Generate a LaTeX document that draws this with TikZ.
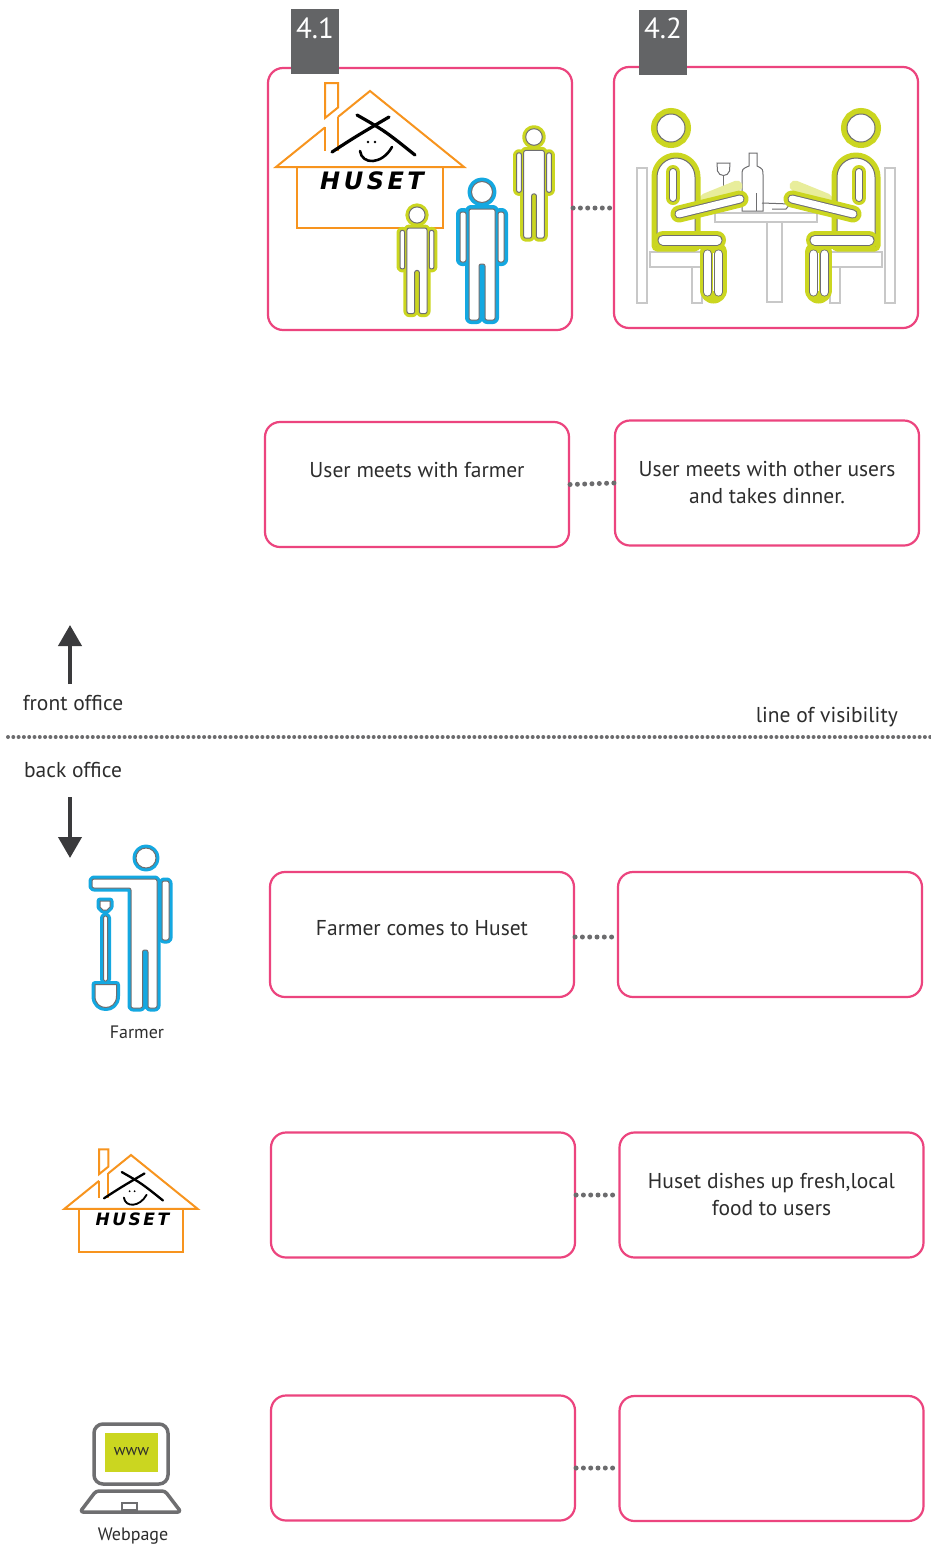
\documentclass[tikz,border=0pt]{standalone}
\usepackage{fontspec}
\setmainfont{PT Sans}
\newfontfamily\logofont{DejaVu Sans}
\usetikzlibrary{arrows.meta,calc}

\definecolor{boxpink}{RGB}{236,68,126}
\definecolor{taggray}{RGB}{99,100,102}
\definecolor{dotgray}{RGB}{108,108,110}
\definecolor{inkgray}{RGB}{45,45,45}
\definecolor{arrowgray}{RGB}{58,58,60}
\definecolor{lime}{RGB}{203,214,32}
\definecolor{skyblue}{RGB}{20,168,225}
\definecolor{roofor}{RGB}{247,148,30}
\definecolor{iconline}{RGB}{110,110,112}
\definecolor{chairgray}{RGB}{200,200,200}

% rounded bar: coloured rim, grey contour, white inside
\newcommand{\capsule}[6]{%
  \draw[#3, line width=#4, line cap=round] #1 -- #2;
  \draw[iconline, line width=#5, line cap=round] #1 -- #2;
  \draw[white, line width=#6, line cap=round] #1 -- #2;}

% standing figure, head centre at the origin
\newcommand{\personparts}[1]{%
  \path[#1] (0,0) circle[radius=10.5];
  \path[#1, rounded corners=2pt] (-22,20) rectangle (-16,70);
  \path[#1, rounded corners=2pt] (16,20) rectangle (22,70);
  \path[#1, rounded corners=2pt] (-13,17) -- (13,17) -- (13,128) -- (3,128)
        -- (3,72) -- (-3,72) -- (-3,128) -- (-13,128) -- cycle;}
\newcommand{\standperson}[5]{% x, y of head, scale, colour, rim width
  \begin{scope}[shift={(#1,#2)}, scale=#3]
    \personparts{draw=#4, line width=#5, line join=round}
    \personparts{core}
  \end{scope}}

% the Huset logo house, apex at the origin
\newcommand{\husethouse}[5]{% x, y of apex, scale, brush width, name
  \begin{scope}[shift={(#1,#2)}, scale=#3]
    \draw[roof] (-45,36.4) -- (-94,76) -- (94,76) -- (0,0) -- (-32,25.9);
    \draw[roof] (-73,76) -- (-73,137) -- (73,137) -- (73,76);
    \draw[roof] (-45,27) -- (-45,-8) -- (-32,-8) -- (-32,16.5) -- cycle;
    \draw[roof] (-45,36.4) -- (-45,60);
    \draw[roof] (-32,25.9) -- (-32,60);
    \draw[brush, line width=#4] (-38,61) .. controls (-15,46) .. (19,26);
    \draw[brush, line width=#4] (-13,24) .. controls (15,40) .. (45,64);
    \fill (-2,51) circle[radius=1.4];
    \fill (5,51) circle[radius=1.4];
    \draw[brush, line width=#4*0.8] (-10,60) .. controls (-8,74) and (12,74) .. (22,56);
    \node[logo, scale=#3] (#5) at (2,90)
      {H\hspace{3.5pt}U\hspace{3.5pt}S\hspace{3.5pt}E\hspace{3.5pt}T};
  \end{scope}}

% seated diner facing right
\newcommand{\diner}{%
  \draw[lime!45, line width=11pt, line cap=round] (705,199) -- (737,186);
  \capsule{(713.5,253)}{(713.5,290)}{lime}{27pt}{0pt}{0pt}
  \capsule{(707.5,254)}{(707.5,292)}{lime}{0pt}{9pt}{7.4pt}
  \capsule{(718.5,254)}{(718.5,292)}{lime}{0pt}{9pt}{7.4pt}
  \draw[lime, line width=11pt, line join=round]
     (657,246) -- (657,177) arc[start angle=180, end angle=360, radius=19] -- (695,246) -- cycle;
  \draw[core]
     (657,246) -- (657,177) arc[start angle=180, end angle=360, radius=19] -- (695,246) -- cycle;
  \draw[lime, line width=12pt] (671,128) circle[radius=14];
  \draw[core] (671,128) circle[radius=14];
  \capsule{(663,240)}{(717,240)}{lime}{18pt}{11pt}{9pt}
  \capsule{(673,172)}{(673,198)}{lime}{14pt}{8pt}{6pt}
  \capsule{(679,214)}{(740,199)}{lime}{17pt}{9pt}{7pt}}

\begin{document}
\begin{tikzpicture}[x=1pt, y=-1pt,
  stepbox/.style={draw=boxpink, line width=2.2pt, rounded corners=15pt,
    minimum width=304pt, minimum height=125pt, inner sep=0pt, fill=white},
  scenebox/.style={stepbox, minimum height=262pt},
  boxtext/.style={font=\fontsize{21.5}{27}\selectfont, text=inkgray, align=center, inner sep=0pt},
  dotlink/.style={draw=dotgray, line width=5pt, line cap=round, dash pattern=on 0pt off 7.3pt},
  visline/.style={draw=dotgray, line width=4pt, line cap=round, dash pattern=on 0pt off 5.3pt},
  roof/.style={draw=roofor, line width=2pt, line join=miter},
  brush/.style={draw=black, line cap=round},
  logo/.style={font=\logofont\bfseries\itshape\fontsize{24}{24}\selectfont, inner sep=0pt},
  core/.style={draw=iconline, line width=1pt, fill=white, line join=round},
  chair/.style={draw=chairgray, line width=1.6pt},
  tagbox/.style={fill=taggray, minimum width=48pt, minimum height=65pt, inner sep=0pt},
  tagtext/.style={text=white, font=\fontsize{29}{30}\selectfont, inner sep=0pt},
  sidelabel/.style={font=\fontsize{21.5}{24}\selectfont, text=inkgray, inner sep=0pt},
  iconlabel/.style={font=\fontsize{18}{20}\selectfont, text=inkgray, inner sep=0pt},
  bigarrow/.style={draw=arrowgray, line width=4pt, -{Triangle[width=23pt,length=21pt]}},
  icon/.style={draw=iconline, line width=3.5pt, line join=round}]

\fill[white] (0,0) rectangle (931,1548);
\useasboundingbox (0,0) rectangle (931,1548);

% ---------- scene boxes ----------
\node[scenebox] (s41) at (420,199) {};
\node[scenebox, minimum height=261pt] (s42) at (766,197.5) {};
\draw[dotlink] ([yshift=-9pt]s41.east) -- ([yshift=-10.5pt]s42.west);

% scene 4.1: the house and three visitors
\husethouse{370}{91}{1}{3.2pt}{logoA}
\standperson{534}{137}{0.79}{lime}{7pt}
\standperson{417}{215}{0.77}{lime}{7pt}
\standperson{482}{192}{1}{skyblue}{8pt}

% scene 4.2: dinner at the table
\begin{scope}
  \draw[chair] (715,213) rectangle (817,222);
  \draw[chair] (767,222) rectangle (782,302);
  \draw[draw=iconline, line width=1pt] (717,163) -- (730,163) -- (729.5,171)
     .. controls (728,177) and (719,177) .. (717.5,171) -- cycle;
  \draw[draw=iconline, line width=1pt] (723.5,176) -- (723.5,188);
  \draw[draw=iconline, line width=1pt, fill=white] (749,153) -- (757,153) -- (757,166)
     .. controls (763,169) .. (763,176) -- (763,211) -- (742,211) -- (742,176)
     .. controls (742,169) .. (749,166) -- cycle;
  \draw[draw=iconline, line width=1pt] (756,193) -- (756,211);
  \draw[draw=iconline, line width=1pt] (762,203) -- (790,204) -- (786,209) -- (772,209);
\end{scope}
\foreach \side in {1,-1}{
  \begin{scope}[shift={({766-766*\side},0)}, xscale=\side]
    \draw[chair] (637,168) rectangle (647,303);
    \draw[chair] (650,252) rectangle (702,267);
    \draw[chair] (692,267) rectangle (702,303);
  \end{scope}}
\diner
\begin{scope}[shift={(1532,0)}, xscale=-1]
  \diner
\end{scope}

% number tags
\node[tagbox] (tag41) at (315,41.5) {};
\node[tagtext] (tag41t) at (315,28) {4.1};
\node[tagbox] (tag42) at (663,42) {};
\node[tagtext] (tag42t) at (663,28) {4.2};

% ---------- front office steps ----------
\node[stepbox] (u1) at (417,484.5) {};
\node[boxtext] (u1t) at (417,470) {User meets with farmer};
\node[stepbox] (u2) at (767,483) {};
\node[boxtext] (u2t) at (767,482.5) {User meets with other users\\and takes dinner.};
\draw[dotlink] (u1.east) -- (u2.west);

% ---------- line of visibility ----------
\coordinate (upfoot) at (70,684);
\coordinate (uptip) at (70,625);
\draw[bigarrow] (upfoot) -- (uptip);
\node[sidelabel] (front) at (73,703) {front office};
\node[sidelabel, anchor=east] (vis) at (898,717) {line of visibility};
\coordinate (visL) at (8,737);
\coordinate (visR) at (931,737);
\draw[visline] (visL) -- (visR);
\node[sidelabel] (back) at (73,770) {back office};
\coordinate (downfoot) at (70,797);
\coordinate (downtip) at (70,858);
\draw[bigarrow] (downfoot) -- (downtip);

% ---------- back office steps ----------
\node[stepbox] (f1) at (422,934.5) {};
\node[boxtext] (f1t) at (422,928) {Farmer comes to Huset};
\node[stepbox] (f2) at (770,934.5) {};
\draw[dotlink] ([yshift=-2.5pt]f1.east) -- ([yshift=-2.5pt]f2.west);

\node[stepbox] (h1) at (423,1195) {};
\node[stepbox] (h2) at (771.5,1195) {};
\node[boxtext] (h2t) at (771.5,1194.5) {Huset dishes up fresh,local\\food to users};
\draw[dotlink] (h1.east) -- (h2.west);

\node[stepbox] (w1) at (423,1458) {};
\node[stepbox] (w2) at (771.5,1458.5) {};
\draw[dotlink] ([yshift=-10pt]w1.east) -- ([yshift=-9.5pt]w2.west);

% ---------- actors ----------
% farmer with a spade
\begin{scope}
  \foreach \st in {{draw=skyblue, line width=7pt, line join=round}, {core}}{
    \path[style/.expanded=\st] (146,858) circle[radius=10];
    \path[style/.expanded=\st, rounded corners=2pt] (92,879) -- (157,879) -- (157,1008)
       -- (148,1008) -- (148,950) -- (142.5,950) -- (142.5,1008) -- (131,1008)
       -- (131,888) -- (92,888) -- cycle;
    \path[style/.expanded=\st, rounded corners=2pt] (162,881) rectangle (169,940);
    \path[style/.expanded=\st] (100,901) -- (110,901) -- (110,907) -- (107,910)
       -- (103,910) -- (100,907) -- cycle;
    \path[style/.expanded=\st, rounded corners=1.5pt] (103.5,916) rectangle (107.5,981);
    \path[style/.expanded=\st] (95,984.5) -- (116.5,984.5) -- (116.5,996)
       .. controls (116.5,1004) and (111,1007.5) .. (105.75,1007.5)
       .. controls (100.5,1007.5) and (95,1004) .. (95,996) -- cycle;
  }
\end{scope}
\node[iconlabel] (farmerlbl) at (137,1032) {Farmer};

% Huset
\husethouse{131}{1155}{0.71}{2.3pt}{logoB}

% webpage on a laptop
\draw[icon, rounded corners=9pt] (94,1424) rectangle (168,1484);
\fill[lime] (105,1433) rectangle (158,1472);
\node[font=\fontsize{16}{17}\selectfont, text=inkgray, inner sep=0pt] (www) at (131.5,1452) {www};
\draw[icon, rounded corners=3pt] (96,1491) -- (165,1491) -- (181,1512) -- (80,1512) -- cycle;
\draw[draw=iconline, line width=1.6pt] (122,1503) rectangle (137,1510);
\node[iconlabel] (weblbl) at (133,1536) {Webpage};

\end{tikzpicture}
\end{document}
